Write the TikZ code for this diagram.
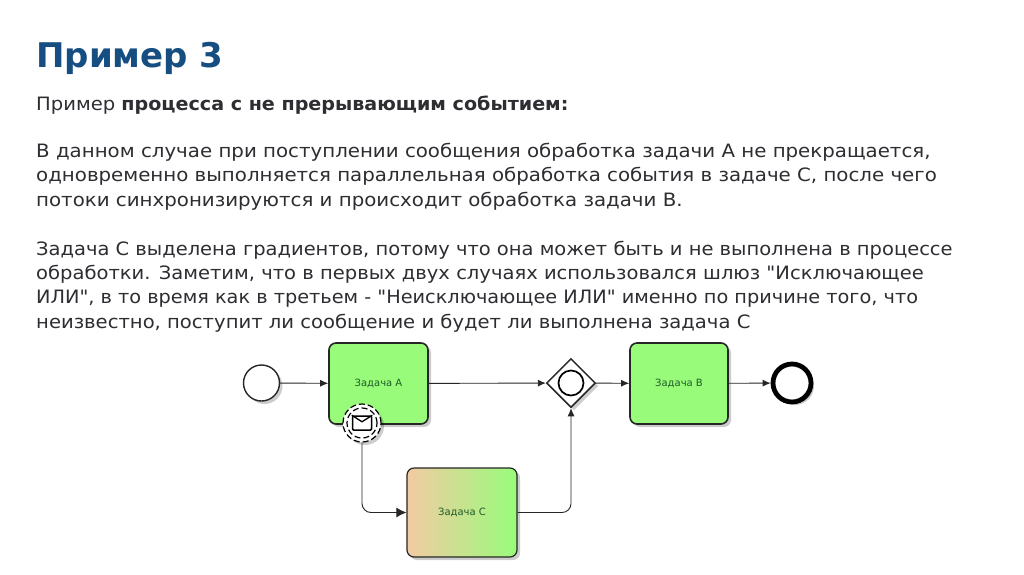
\documentclass[tikz,border=0pt]{standalone}
\usepackage{fontspec}
\newfontfamily\bodyfont[FakeStretch=1.075,BoldFeatures={FakeStretch=1.05}]{DejaVu Sans}
\setmainfont{DejaVu Sans}
\usetikzlibrary{arrows.meta,shapes.geometric,shadows,positioning}
\definecolor{titleblue}{RGB}{22,78,130}
\definecolor{bodyink}{RGB}{45,45,50}
\definecolor{taskgreen}{RGB}{152,252,122}
\definecolor{taskorange}{RGB}{243,203,163}
\definecolor{labelgreen}{RGB}{30,90,40}
\tikzset{
  softshadow/.style={drop shadow={shadow xshift=3pt,shadow yshift=-3pt,opacity=.2,fill=black}},
  titletext/.style={anchor=base west,inner sep=0pt,font=\bfseries\fontsize{34}{38}\selectfont,text=titleblue},
  bodytext/.style={anchor=base west,inner sep=0pt,font=\bodyfont\fontsize{18.4}{21}\selectfont,text=bodyink},
  fit/.style={xscale=#1,transform shape},
  taskbox/.style={draw=black!85,line width=1.6pt,rounded corners=7pt,fill=taskgreen,softshadow,inner sep=0pt,font=\fontsize{10}{12}\selectfont,text=labelgreen},
  flow/.style={draw=black!85,line width=.9pt,-{Latex[length=8pt,width=7pt]},rounded corners=9pt},
  flowbig/.style={flow,-{Latex[length=10pt,width=10pt]}},
}
\begin{document}
\begin{tikzpicture}[x=1pt,y=-1pt]
\useasboundingbox (0,0) rectangle (1024,574);
\fill[white] (0,0) rectangle (1024,574);
\node[titletext] (title) at (36,67) {Пример 3};
\node[bodytext,fit=.989] (l1) at (36,110.5) {Пример \textbf{процесса с не прерывающим событием:}};
\node[bodytext] (l2) at (36,157) {В данном случае при поступлении сообщения обработка задачи А не прекращается,};
\node[bodytext] (l3) at (36,181.5) {одновременно выполняется параллельная обработка события в задаче С, после чего};
\node[bodytext] (l4) at (36,206) {потоки синхронизируются и происходит обработка задачи В.};
\node[bodytext,fit=.985] (l5) at (36,255) {Задача С выделена градиентов, потому что она может быть и не выполнена в процессе};
\node[bodytext,fit=.987] (l6) at (36,279) {обработки. Заметим, что в первых двух случаях использовался шлюз "Исключающее};
\node[bodytext,fit=.975] (l7) at (36,303) {ИЛИ", в то время как в третьем - "Неисключающее ИЛИ" именно по причине того, что};
\node[bodytext,fit=.99] (l8) at (36,328) {неизвестно, поступит ли сообщение и будет ли выполнена задача С};

\node[circle,draw=black!85,line width=1.4pt,fill=white,softshadow,minimum size=36pt,inner sep=0pt] (start) at (261.5,383) {};
\node[taskbox,minimum width=99pt,minimum height=81pt] (a) at (378.5,383.5) {Задача А};
\node[taskbox,minimum width=98pt,minimum height=81pt] (b) at (679,383.5) {Задача В};
\node[taskbox,minimum width=110pt,minimum height=89pt,left color=taskorange,right color=taskgreen,line width=1.2pt] (c) at (462,512.5) {Задача С};
\node[diamond,aspect=1,draw=black!85,line width=1.5pt,fill=white,softshadow,minimum size=49pt,inner sep=0pt] (gw) at (571,383) {};
\node[circle,draw=black,line width=1.7pt,fill=white,minimum size=25pt,inner sep=0pt] (gwc) at (571,383) {};
\node[circle,draw=black,line width=4.8pt,fill=white,softshadow,minimum size=38pt,inner sep=0pt] (end) at (792,383) {};

\node[circle,fill=white,softshadow,draw=black,line width=1.2pt,dash pattern=on 6pt off 3pt,minimum size=38pt,inner sep=0pt] (ev) at (362,423) {};
\node[circle,draw=black,line width=1.2pt,dash pattern=on 6pt off 3pt,minimum size=30pt,inner sep=0pt] (evi) at (362,423) {};
\node[rectangle,draw=black,line width=1.5pt,rounded corners=1pt,fill=white,minimum width=19pt,minimum height=14pt,inner sep=0pt] (env) at (362,423) {};
\draw[black,line width=1.3pt] (env.north west) -- ([yshift=-6.5pt]env.north) -- (env.north east);

\coordinate (cornerc) at (ev.south |- c.west);
\coordinate (cornerg) at (gw.south |- c.east);
\draw[flow] (start) -- (a);
\draw[flow] (a) -- (gw);
\draw[flow] (gw) -- (b);
\draw[flow] (b) -- (end);
\draw[flowbig] (ev.south) -- (cornerc) -- (c.west);
\draw[flow] (c.east) -- (cornerg) -- (gw.south);
\end{tikzpicture}
\end{document}
